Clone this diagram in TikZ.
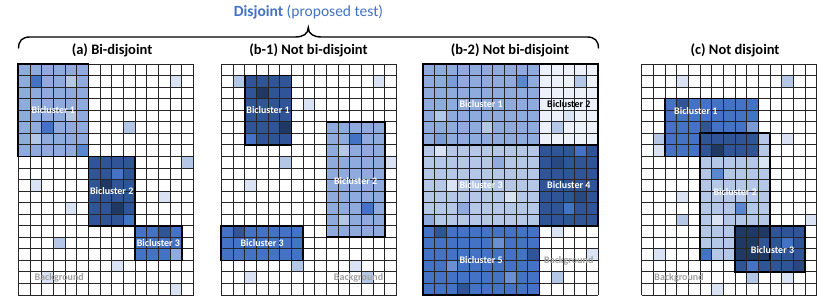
\documentclass[tikz,border=0pt]{standalone}
\usepackage{fontspec}
\setmainfont{Carlito}
\definecolor{cZ}{HTML}{EDF1F9}
\definecolor{cA}{HTML}{DAE3F3}
\definecolor{cB}{HTML}{B4C7E7}
\definecolor{cC}{HTML}{8FAADC}
\definecolor{cCd}{HTML}{7B9BD6}
\definecolor{cM}{HTML}{5B86D0}
\definecolor{cDl}{HTML}{6A8FD3}
\definecolor{cD}{HTML}{4472C4}
\definecolor{cE}{HTML}{2F5597}
\definecolor{cEd}{HTML}{28497F}
\definecolor{cF}{HTML}{203864}
\definecolor{titleblue}{HTML}{4472C4}
\definecolor{bggray}{HTML}{A0A0A0}
\newcommand\panelcells[1]{\foreach \c/\r/\k in {#1} \fill[fill=\k] (\c,\r) rectangle ++(1,1);}
\newcommand\panelgrid{%
  \foreach \i in {0,...,15} \draw[gridline] (\i,0) -- (\i,20);
  \foreach \j in {0,...,20} \draw[gridline] (0,\j) -- (15,\j);}
\tikzset{
  gridline/.style={line width=0.9pt, draw=black!85},
  bicbox/.style={line width=1.7pt, draw=black},
  biclabel/.style={font=\fontsize{10}{12}\selectfont\bfseries, text=white, inner sep=0pt},
  bglabel/.style={font=\fontsize{10}{12}\selectfont\bfseries, text=bggray, inner sep=0pt},
  paneltitle/.style={font=\fontsize{14.5}{16}\selectfont\bfseries, inner sep=0pt},
  bracepath/.style={line width=1.4pt, draw=black},
  panel/.style={x=11.68pt, y=-11.55pt}
}
\begin{document}
\begin{tikzpicture}[x=1pt,y=-1pt]
\useasboundingbox (0,0) rectangle (830,302);
\fill[white] (0,0) rectangle (830,302);

% title and brace
\node[font=\fontsize{15.5}{18}\selectfont, text=titleblue, inner sep=0pt] (maintitle) at (308.5,12) {\textbf{Disjoint} (proposed test)};
\draw[bracepath] (18.5,48.5) .. controls (18.5,41) and (22,37) .. (30,37) -- (295,37) .. controls (303,37) and (308.3,34) .. (308.3,27.5) .. controls (308.3,34) and (313.6,37) .. (321.6,37) -- (587,37) .. controls (595,37) and (598.5,41) .. (598.5,48.5);

\node[paneltitle] (ta) at (112,50) {(a) Bi-disjoint};
\node[paneltitle] (tb1) at (308.5,50) {(b-1) Not bi-disjoint};
\node[paneltitle] (tb2) at (510,50) {(b-2) Not bi-disjoint};
\node[paneltitle] (tc) at (735,50) {(c) Not disjoint};

% ---------------- panel (a)
\begin{scope}[shift={(18.3,64)}, panel]
  \fill[cC] (0,0) rectangle (6,8);
  \fill[cE] (6,8) rectangle (10,14);
  \fill[cD] (10,14) rectangle (14,17);
  \panelcells{1/1/cD, 4/1/cB, 4/4/cB, 2/5/cD, 1/6/cB, 5/7/cM,
    8/9/cD, 7/10/cF, 8/12/cF, 9/13/cD,
    12/14/cE, 13/16/cC,
    13/1/cA, 9/5/cB, 14/8/cB, 1/10/cA, 12/11/cA, 4/12/cA, 3/15/cB, 8/17/cA, 2/18/cA, 13/19/cA}
  \panelgrid
  \draw[bicbox] (0,0) rectangle (6,8);
  \draw[bicbox] (6,8) rectangle (10,14);
  \draw[bicbox] (10,14) rectangle (14,17);
  \node[biclabel] (a1) at (3,4) {Bicluster 1};
  \node[biclabel] (a2) at (8,11) {Bicluster 2};
  \node[biclabel] (a3) at (12,15.5) {Bicluster 3};
  \node[bglabel] (abg) at (3.5,18.5) {Background};
\end{scope}

% ---------------- panel (b-1)
\begin{scope}[shift={(221.3,64)}, panel]
  \fill[cE] (2,1) rectangle (6,7);
  \fill[cC] (9,5) rectangle (14,15);
  \fill[cD] (0,14) rectangle (7,17);
  \panelcells{3/2/cF, 5/5/cF, 2/6/cD,
    11/6/cD, 10/7/cB, 12/12/cD, 10/13/cB,
    1/14/cE,
    1/1/cB, 13/1/cA, 7/3/cA, 5/8/cB, 14/8/cA, 2/10/cA, 6/17/cB, 11/17/cA, 2/18/cA, 12/18/cB}
  \panelgrid
  \draw[bicbox] (2,1) rectangle (6,7);
  \draw[bicbox] (9,5) rectangle (14,15);
  \draw[bicbox] (0,14) rectangle (7,17);
  \node[biclabel] (b11) at (4,4) {Bicluster 1};
  \node[biclabel] (b12) at (11.5,10.1) {Bicluster 2};
  \node[biclabel] (b13) at (3.5,15.5) {Bicluster 3};
  \node[bglabel] (b1bg) at (11.75,18.5) {Background};
\end{scope}

% ---------------- panel (b-2)
\begin{scope}[shift={(422.8,64)}, panel]
  \fill[cC] (0,0) rectangle (10,7);
  \fill[cZ] (10,0) rectangle (15,7);
  \fill[cB] (0,7) rectangle (10,14);
  \fill[cE] (10,7) rectangle (15,14);
  \fill[cD] (0,14) rectangle (10,20);
  \panelcells{2/1/cCd, 8/1/cM, 1/4/cB, 5/5/cB, 1/6/cCd,
    13/1/cB, 12/4/cA, 11/5/cB,
    1/7/cA, 6/8/cC, 2/10/cA, 7/11/cA, 3/12/cC, 0/13/cC,
    13/7/cD, 11/8/cEd, 13/11/cEd, 12/12/cD,
    1/14/cE, 6/15/cDl, 9/16/cE, 2/17/cDl, 7/18/cDl, 3/19/cE,
    11/14/cA, 14/16/cA, 11/18/cB}
  \panelgrid
  \draw[bicbox] (0,0) rectangle (10,7);
  \draw[bicbox] (10,0) rectangle (15,7);
  \draw[bicbox] (0,7) rectangle (10,14);
  \draw[bicbox] (10,7) rectangle (15,14);
  \draw[bicbox] (0,14) rectangle (10,20);
  \node[biclabel] (b21) at (5,3.5) {Bicluster 1};
  \node[biclabel, text=black] (b22) at (12.5,3.5) {Bicluster 2};
  \node[biclabel] (b23) at (5,10.5) {Bicluster 3};
  \node[biclabel] (b24) at (12.5,10.5) {Bicluster 4};
  \node[biclabel] (b25) at (5,17) {Bicluster 5};
  \node[bglabel] (b2bg) at (12.5,17) {Background};
\end{scope}

% ---------------- panel (c)
\begin{scope}[shift={(641.7,64)}, panel]
  \fill[cB] (5,6) rectangle (11,17);
  \fill[cD] (2,3) rectangle (10,8);
  \fill[cE] (5,6) rectangle (10,8);
  \fill[cE] (8,14) rectangle (14,18);
  \fill[cF] (8,14) rectangle (11,17);
  \panelcells{3/3/cE, 5/5/cE, 9/5/cCd, 6/7/cF,
    10/8/cA, 6/9/cM, 8/12/cM, 6/13/cA, 5/16/cD,
    10/15/cE, 12/15/cD, 9/17/cD, 13/17/cEd,
    3/1/cA, 12/1/cB, 1/6/cB, 1/7/cA, 12/6/cA, 3/11/cA, 3/13/cB, 14/13/cA,
    1/16/cA, 9/18/cB, 12/18/cA, 6/19/cA}
  \panelgrid
  \draw[bicbox] (2,3) rectangle (10,8);
  \draw[bicbox] (5,6) rectangle (11,17);
  \draw[bicbox] (8,14) rectangle (14,18);
  \node[biclabel] (c1) at (4.63,4.07) {Bicluster 1};
  \node[biclabel] (c2) at (8,11.1) {Bicluster 2};
  \node[biclabel] (c3) at (11.2,16.1) {Bicluster 3};
  \node[bglabel] (cbg) at (3.2,18.5) {Background};
\end{scope}
\end{tikzpicture}
\end{document}
